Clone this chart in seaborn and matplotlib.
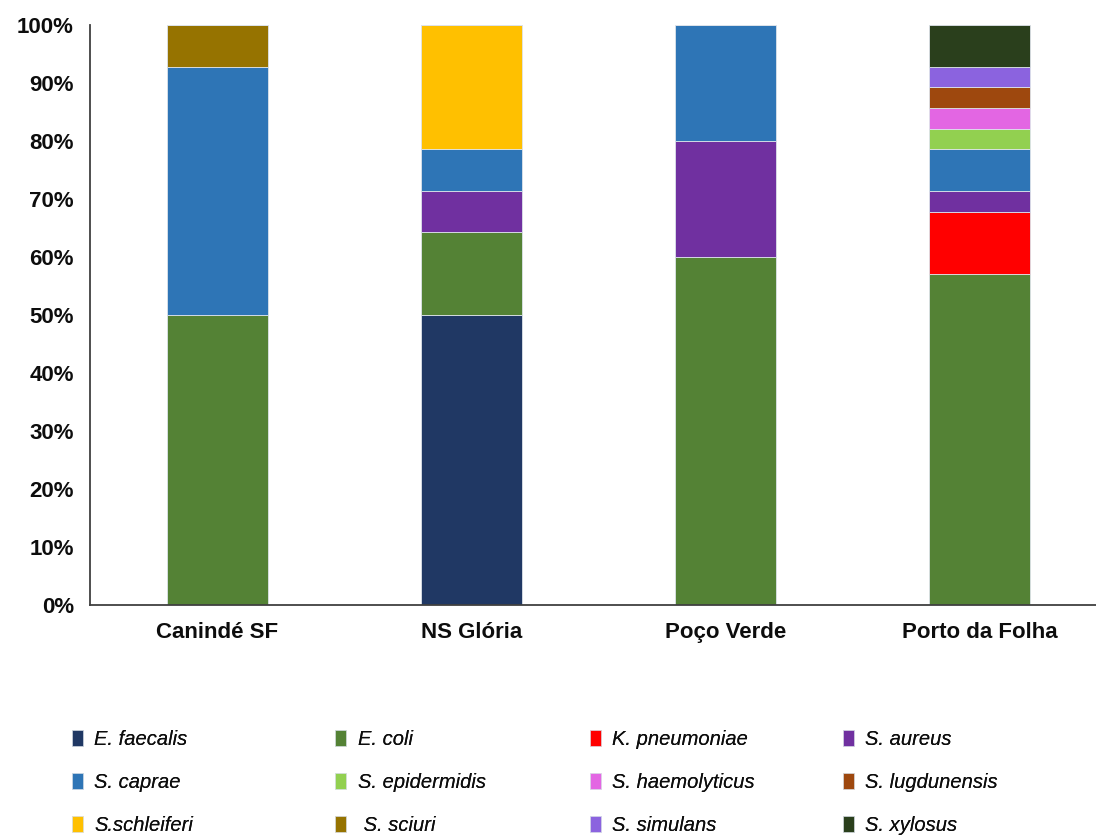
import matplotlib
matplotlib.use("Agg")
import matplotlib.pyplot as plt
from matplotlib.patches import Patch
from matplotlib.ticker import PercentFormatter, FixedLocator
import numpy as np
import pandas as pd
import seaborn as sns

# Sampling sites
sites = ["Canindé SF", "NS Glória", "Poço Verde", "Porto da Folha"]

# Number of isolates of each species per site
species = ["E. faecalis", "E. coli", "K. pneumoniae", "S. aureus",
           "S. caprae", "S. epidermidis", "S. haemolyticus", "S. lugdunensis",
           "S.schleiferi", " S. sciuri", "S. simulans", "S. xylosus"]
e_faecalis = [0, 7, 0, 0]
e_coli = [7, 2, 3, 16]
k_pneumoniae = [0, 0, 0, 3]
s_aureus = [0, 1, 1, 1]
s_caprae = [6, 1, 1, 2]
s_epidermidis = [0, 0, 0, 1]
s_haemolyticus = [0, 0, 0, 1]
s_lugdunensis = [0, 0, 0, 1]
s_schleiferi = [0, 3, 0, 0]
s_sciuri = [1, 0, 0, 0]
s_simulans = [0, 0, 0, 1]
s_xylosus = [0, 0, 0, 2]

colors = ["#203864", "#548235", "#FF0000", "#7030A0",
          "#2E75B6", "#92D050", "#E366E3", "#9E480E",
          "#FFC000", "#967300", "#8B63DF", "#2A3F1C"]

counts = np.array([e_faecalis, e_coli, k_pneumoniae, s_aureus, s_caprae,
                   s_epidermidis, s_haemolyticus, s_lugdunensis, s_schleiferi,
                   s_sciuri, s_simulans, s_xylosus], dtype=float)
shares = counts / counts.sum(axis=0) * 100

sns.set_style("white")
plt.rcParams["font.family"] = ["Liberation Sans", "DejaVu Sans"]
plt.rcParams["text.color"] = "#0D0D0D"
plt.rcParams["xtick.color"] = "#0D0D0D"
plt.rcParams["ytick.color"] = "#0D0D0D"

fig = plt.figure(figsize=(10.96, 8.38), dpi=100)
ax = fig.add_axes([0.0825, 0.278, 0.927, 0.692])

bottom = np.zeros(len(sites))
for name, share, col in zip(species, shares, colors):
    df = pd.DataFrame({"site": sites, "pct": share})
    sns.barplot(data=df, x="site", y="pct", order=sites, color=col,
                saturation=1, width=0.40, bottom=bottom, errorbar=None,
                edgecolor="#DDE3EA", linewidth=0.6, ax=ax)
    bottom = bottom + share

ax.set_xlim(-0.5, 3.5)
ax.set_ylim(0, 100)
ax.set_yticks(np.arange(0, 101, 10))
ax.yaxis.set_major_formatter(PercentFormatter(decimals=0))
ax.set_xlabel("")
ax.set_ylabel("")

for side in ["top", "right"]:
    ax.spines[side].set_visible(False)
for side in ["left", "bottom"]:
    ax.spines[side].set_color("#404040")
    ax.spines[side].set_linewidth(1.3)

ax.tick_params(axis="y", which="major", direction="out", length=7, width=1.3,
               color="#404040", labelcolor="#0D0D0D", labelsize=16, pad=5)
ax.tick_params(axis="x", which="major", length=0, labelsize=16, pad=12,
               labelcolor="#0D0D0D")
ax.xaxis.set_minor_locator(FixedLocator([0.5, 1.5, 2.5]))
ax.tick_params(axis="x", which="minor", direction="out", length=6, width=1.3,
               color="#404040")
for lab in ax.get_yticklabels() + ax.get_xticklabels():
    lab.set_fontweight("bold")

# Legend laid out row by row in four fixed columns
col_x = [0.066, 0.306, 0.538, 0.769]
for c in range(4):
    idx = [c, c + 4, c + 8]
    handles = [Patch(facecolor=colors[i], edgecolor="#DDE3EA", linewidth=0.5)
               for i in idx]
    labels = [species[i] for i in idx]
    leg = fig.legend(handles, labels, loc="center left",
                     bbox_to_anchor=(col_x[c], 0.066), frameon=False,
                     handlelength=0.55, handleheight=0.85, handletextpad=0.55,
                     labelspacing=1.2, borderpad=0, borderaxespad=0,
                     labelcolor="#0D0D0D",
                     prop={"style": "italic", "size": 14.5})
    fig.add_artist(leg)

fig.savefig("out.png", dpi=100)
